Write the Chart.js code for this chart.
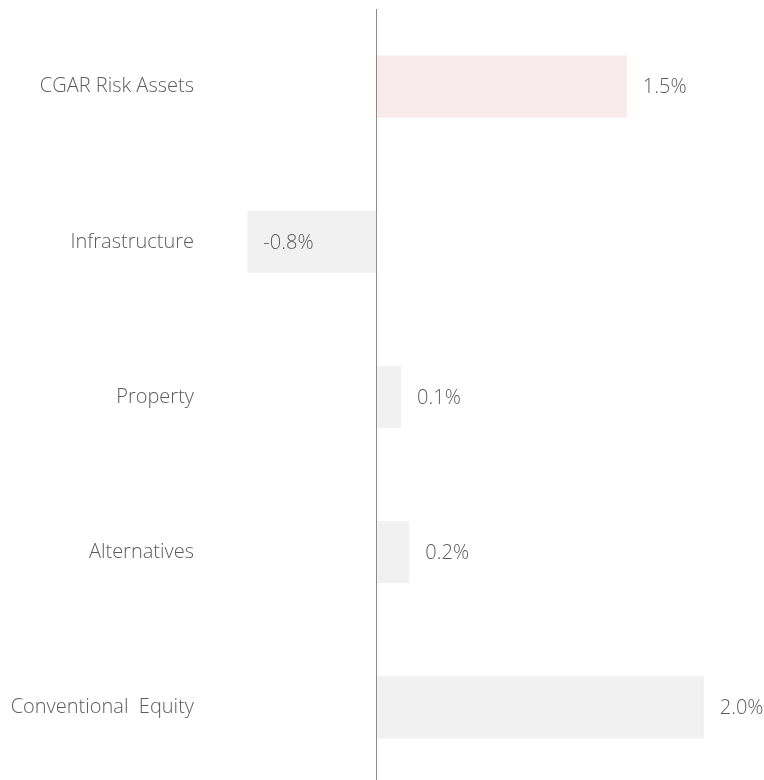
<!DOCTYPE html>
<html>
<head>
<meta charset="utf-8">
<script src="https://cdn.jsdelivr.net/npm/chart.js@4"></script>
<style>
  html, body { margin: 0; padding: 0; background: #fff; overflow: hidden; }
  #wrap { width: 764px; height: 786px; position: relative; }
</style>
</head>
<body>
<div id="wrap"><canvas id="myChart"></canvas></div>
<script>
const categories = ['CGAR Risk Assets', 'Infrastructure', 'Property', 'Alternatives', 'Conventional  Equity'];
const returns = [1.53, -0.79, 0.15, 0.2, 2.0];
const barColors = ['#f9ebeb', '#f0f1f0', '#f0f1f0', '#f0f1f0', '#f0f1f0'];

const FONT = "'Open Sans', sans-serif";
const TEXT = '#5c5c5c';

// value labels: 16px after the bar end (inside the bar for negatives)
const valueLabels = {
    id: 'valueLabels',
    afterDatasetsDraw(chart) {
        const c = chart.ctx;
        const meta = chart.getDatasetMeta(0);
        c.save();
        c.font = '300 20px ' + FONT;
        c.fillStyle = TEXT;
        c.textBaseline = 'middle';
        c.textAlign = 'left';
        meta.data.forEach((bar, i) => {
            const v = returns[i];
            c.fillText(v.toFixed(1) + '%', bar.x + 16, bar.y + 1);
        });
        c.restore();
    }
};

new Chart(document.getElementById('myChart'), {
    type: 'bar',
    data: {
        labels: categories,
        datasets: [{
            data: returns,
            backgroundColor: barColors,
            borderWidth: 0,
            barPercentage: 0.8,
            categoryPercentage: 0.5
        }]
    },
    plugins: [valueLabels],
    options: {
        indexAxis: 'y',
        responsive: true,
        maintainAspectRatio: false,
        animation: false,
        layout: { padding: { top: 9, bottom: 1, left: 0, right: 3 } },
        plugins: {
            legend: { display: false },
            tooltip: { enabled: false }
        },
        scales: {
            x: {
                min: -1,
                max: 2.35,
                ticks: { display: false, stepSize: 0.5 },
                border: { display: false },
                grid: {
                    drawTicks: false,
                    color: ctx => ctx.tick && ctx.tick.value === 0 ? '#8a8a8a' : 'rgba(0,0,0,0)',
                    lineWidth: 1
                },
                afterFit(axis) { axis.height = 0; axis.paddingLeft = 0; axis.paddingRight = 0; }
            },
            y: {
                grid: { display: false },
                border: { display: false },
                ticks: {
                    color: TEXT,
                    padding: 11,
                    font: { family: FONT, size: 20, weight: 300 }
                },
                afterFit(axis) { axis.width = 213; axis.paddingTop = 0; axis.paddingBottom = 0; }
            }
        }
    }
});
</script>
</body>
</html>
